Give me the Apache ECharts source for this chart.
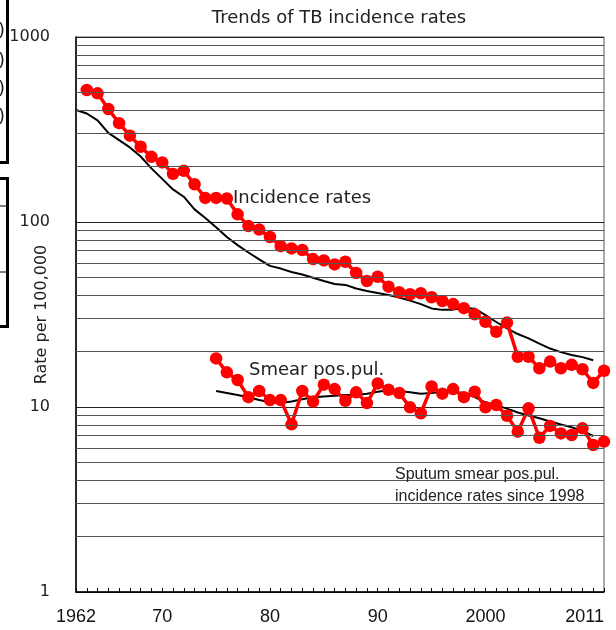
<!DOCTYPE html>
<html>
<head>
<meta charset="utf-8">
<script src="https://cdn.jsdelivr.net/npm/echarts@6.0.0/dist/echarts.min.js"></script>
<style>
  html, body { margin: 0; padding: 0; background: #fff; }
  #chart { width: 616px; height: 630px; }
</style>
</head>
<body>
<div id="chart"></div>
<script>
// years on the x axis
var years = [1962, 1963, 1964, 1965, 1966, 1967, 1968, 1969, 1970, 1971,
             1972, 1973, 1974, 1975, 1976, 1977, 1978, 1979, 1980, 1981,
             1982, 1983, 1984, 1985, 1986, 1987, 1988, 1989, 1990, 1991,
             1992, 1993, 1994, 1995, 1996, 1997, 1998, 1999, 2000, 2001,
             2002, 2003, 2004, 2005, 2006, 2007, 2008, 2009, 2010, 2011];

// incidence rates (red), 1963-2011
var incidenceRate = [517, 496, 408, 342, 293, 255, 225, 210, 182, 189,
                     160, 135, 135, 134, 110, 95, 91, 83, 74, 72,
                     70.6, 63, 62, 59, 61, 53, 48, 50.6, 44.7, 41.7,
                     40.7, 41.2, 39.2, 37.4, 36, 34.2, 31.7, 28.9, 25.5, 28.6,
                     18.7, 18.7, 16.2, 17.6, 16.2, 16.9, 16.0, 13.5, 15.7];

// incidence rates, other series (black), 1962-2010
var incidenceRef = [403, 386, 354, 303, 277, 253, 226, 195, 171, 150,
                    137, 117, 105, 93.6, 83, 75, 68.4, 62.8, 57.9, 56,
                    53.7, 52, 50, 48, 46.2, 45.7, 43.7, 42.4, 41.3, 40.3,
                    39.1, 37.6, 36, 34.1, 33.5, 33.6, 34.3, 34, 31.4, 28.8,
                    26.6, 24.8, 23.5, 22, 20.7, 19.8, 19.1, 18.6, 17.9];

// smear positive pulmonary (red), 1975-2011
var smearRate = [18.3, 15.4, 14.0, 11.3, 12.2, 10.9, 10.9, 8.06, 12.2, 10.7,
                 13.2, 12.5, 10.8, 12.0, 10.5, 13.4, 12.4, 11.9, 9.96, 9.25,
                 12.9, 11.8, 12.5, 11.3, 12.1, 9.96, 10.25, 8.97, 7.36, 9.84,
                 6.82, 7.9, 7.2, 7.06, 7.67, 6.23, 6.5];

// smear positive pulmonary (black), 1975-2010
var smearRef = [12.2, 11.9, 11.6, 11.3, 10.9, 10.6, 10.5, 10.7, 11.0, 11.3,
                11.4, 11.5, 11.6, 11.6, 11.8, 12.1, 12.3, 12.2, 12.0, 11.8,
                11.9, 12.1, 12.1, 11.9, 11.3, 10.6, 10.2, 9.8, 9.34, 9.0,
                8.69, 8.35, 8.04, 7.77, 7.42, 6.97];

// x tick labels
var xTickYears = [1962, 1970, 1980, 1990, 2000, 2011];
var xTickText = ['1962', '70', '80', '90', '2000', '2011'];

function pairs(xs, vs) {
  return vs.map(function (v, i) { return [xs[i], v]; });
}

// log minor grid lines 2..9 in every decade
var minorLines = [];
[1, 10, 100].forEach(function (d) {
  for (var k = 2; k <= 9; k++) minorLines.push({ yAxis: k * d });
});

var RED = '#ff0000';
var chart = echarts.init(document.getElementById('chart'));

chart.setOption({
  animation: false,
  title: {
    text: 'Trends of TB incidence rates',
    left: 334,
    top: 4,
    textAlign: 'center',
    textStyle: { fontFamily: 'DejaVu Sans', fontSize: 18, fontWeight: 'normal', color: '#222' }
  },
  grid: {
    left: 76, right: 12, top: 37, bottom: 38,
    show: true, borderColor: '#555', borderWidth: 1,
    outerBoundsMode: 'none'
  },
  xAxis: {
    type: 'value',
    min: 1962, max: 2011, interval: 1,
    axisLine: { show: true, lineStyle: { color: '#000', width: 1.5 } },
    axisTick: { show: true, inside: true, length: 4, lineStyle: { color: '#000' } },
    splitLine: { show: false },
    axisLabel: {
      margin: 16,
      fontFamily: 'Liberation Sans', fontSize: 18, color: '#111',
      alignMaxLabel: 'right',
      formatter: function (v) {
        var i = xTickYears.indexOf(Math.round(v));
        return i >= 0 ? xTickText[i] : '';
      }
    }
  },
  yAxis: {
    type: 'log', logBase: 10, min: 1, max: 1000,
    name: 'Rate per 100,000',
    nameLocation: 'middle', nameRotate: 90, nameGap: 26,
    nameMoveOverlap: false,
    nameTextStyle: { fontFamily: 'DejaVu Sans', fontSize: 16, color: '#222' },
    axisLine: { show: true, lineStyle: { color: '#000', width: 1.5 } },
    axisTick: { show: false },
    splitLine: { show: true, lineStyle: { color: '#222', width: 1 } },
    axisLabel: {
      margin: 26,
      fontFamily: 'DejaVu Sans', fontSize: 16, color: '#222',
      formatter: function (v) { return String(Math.round(v)); }
    }
  },
  series: [
    {
      name: 'grid', type: 'line', data: [], z: 1, silent: true,
      markLine: {
        silent: true, symbol: ['none', 'none'], label: { show: false },
        lineStyle: { color: '#555', width: 1, type: 'solid' },
        data: minorLines
      }
    },
    {
      name: 'Incidence (black)', type: 'line', z: 3,
      data: pairs(years, incidenceRef),
      showSymbol: false,
      lineStyle: { color: '#000', width: 2 }
    },
    {
      name: 'Smear (black)', type: 'line', z: 3,
      data: pairs(years.slice(13), smearRef),
      showSymbol: false,
      lineStyle: { color: '#000', width: 2 }
    },
    {
      name: 'Incidence rates', type: 'line', z: 4,
      data: pairs(years.slice(1), incidenceRate),
      symbol: 'circle', symbolSize: 12.5,
      itemStyle: { color: RED },
      lineStyle: { color: RED, width: 3.5 }
    },
    {
      name: 'Smear pos.pul.', type: 'line', z: 4,
      data: pairs(years.slice(13), smearRate),
      symbol: 'circle', symbolSize: 12.5,
      itemStyle: { color: RED },
      lineStyle: { color: RED, width: 3.5 }
    }
  ],
  graphic: [
    { type: 'text', x: 233, y: 198, z: 10,
      style: { text: 'Incidence rates', font: '18px "DejaVu Sans"', fill: '#222', textVerticalAlign: 'middle' } },
    { type: 'text', x: 249, y: 370, z: 10,
      style: { text: 'Smear pos.pul.', font: '18px "DejaVu Sans"', fill: '#222', textVerticalAlign: 'middle' } },
    { type: 'text', x: 395, y: 475, z: 10,
      style: { text: 'Sputum smear pos.pul.', font: '16px "Liberation Sans"', fill: '#222', textVerticalAlign: 'middle' } },
    { type: 'text', x: 395, y: 497, z: 10,
      style: { text: 'incidence rates since 1998', font: '16px "Liberation Sans"', fill: '#222', textVerticalAlign: 'middle' } },
    // pieces of the neighbouring boxes cut by the left edge
    { type: 'rect', shape: { x: -20, y: -5, width: 27.5, height: 167.5 },
      style: { fill: 'none', stroke: '#000', lineWidth: 3 } },
    { type: 'rect', shape: { x: -20, y: 178.5, width: 27.5, height: 148 },
      style: { fill: 'none', stroke: '#000', lineWidth: 3 } },
    { type: 'line', shape: { x1: 0, y1: 206, x2: 6, y2: 206 }, style: { stroke: '#000', lineWidth: 1 } },
    { type: 'line', shape: { x1: 0, y1: 272, x2: 6, y2: 272 }, style: { stroke: '#000', lineWidth: 1 } },
    { type: 'text', x: 5, y: 31, style: { text: ')', font: '18px "DejaVu Sans"', fill: '#222', textAlign: 'right', textVerticalAlign: 'middle' } },
    { type: 'text', x: 5, y: 61, style: { text: ')', font: '18px "DejaVu Sans"', fill: '#222', textAlign: 'right', textVerticalAlign: 'middle' } },
    { type: 'text', x: 5, y: 89, style: { text: ')', font: '18px "DejaVu Sans"', fill: '#222', textAlign: 'right', textVerticalAlign: 'middle' } },
    { type: 'text', x: 5, y: 117, style: { text: ')', font: '18px "DejaVu Sans"', fill: '#222', textAlign: 'right', textVerticalAlign: 'middle' } }
  ]
});
</script>
</body>
</html>
